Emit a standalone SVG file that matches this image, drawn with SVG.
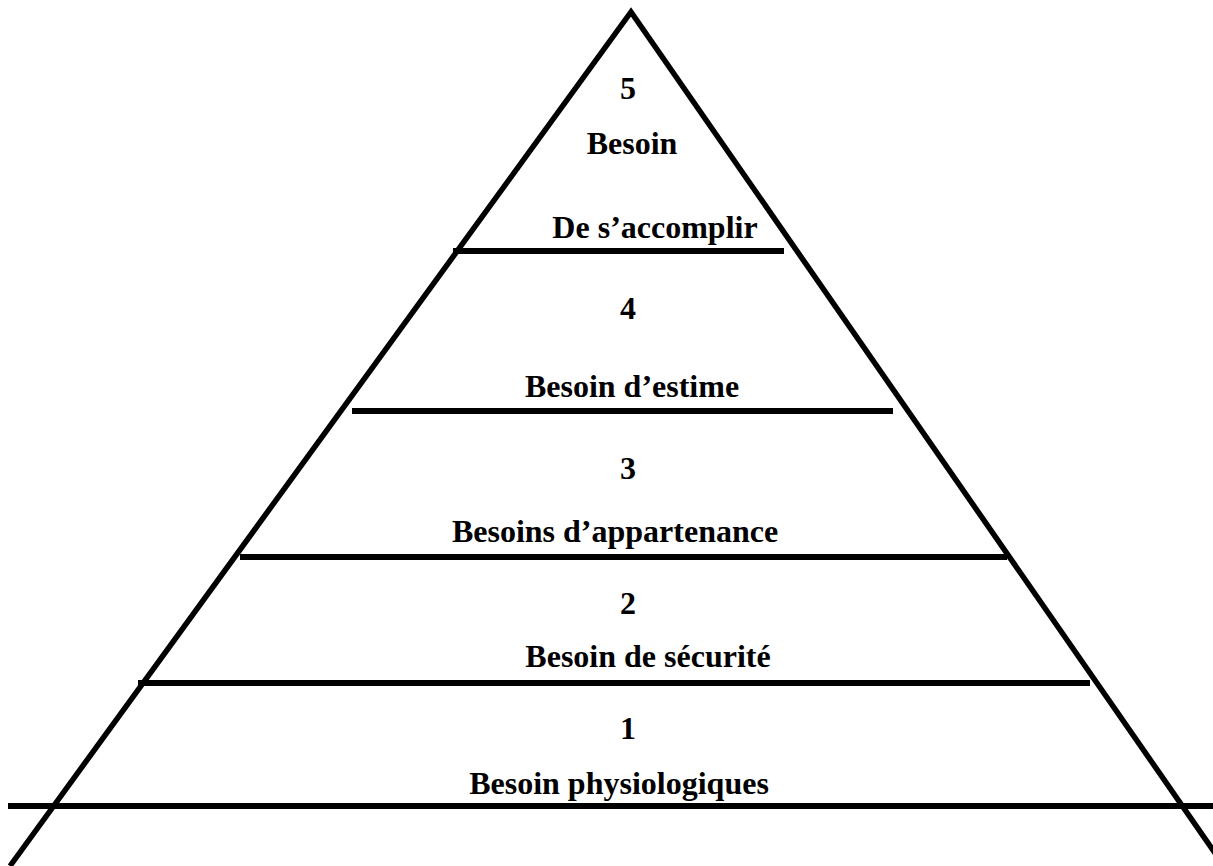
<svg xmlns="http://www.w3.org/2000/svg" width="1213" height="866" viewBox="0 0 1213 866">
<style>
.l{stroke:#000;stroke-width:6;fill:none}
.s{stroke:#000;stroke-width:5.5;fill:none}
text{font-family:"Liberation Serif","Times New Roman",serif;font-weight:bold;font-size:32px;fill:#000;text-anchor:middle}
</style>
<rect width="1213" height="866" fill="#fff"/>
<g id="connectors">
<path class="s" d="M10,866 L631,12 L1224,866"/>
<line class="l" x1="453" y1="251" x2="784" y2="251"/>
<line class="l" x1="352" y1="411" x2="893" y2="411"/>
<line class="l" x1="240" y1="557" x2="1007" y2="557"/>
<line class="l" x1="138" y1="683" x2="1090" y2="683"/>
<line class="l" x1="8" y1="806" x2="1213" y2="806"/>
</g>
<g id="level5">
<text x="628" y="99">5</text>
<text x="632" y="154">Besoin</text>
<text x="655" y="238">De s’accomplir</text>
</g>
<g id="level4">
<text x="628" y="319">4</text>
<text x="632" y="397">Besoin d’estime</text>
</g>
<g id="level3">
<text x="628" y="479">3</text>
<text x="615" y="542">Besoins d’appartenance</text>
</g>
<g id="level2">
<text x="628" y="614">2</text>
<text x="648" y="667">Besoin de sécurité</text>
</g>
<g id="level1">
<text x="628" y="739">1</text>
<text x="619" y="794">Besoin physiologiques</text>
</g>
</svg>
